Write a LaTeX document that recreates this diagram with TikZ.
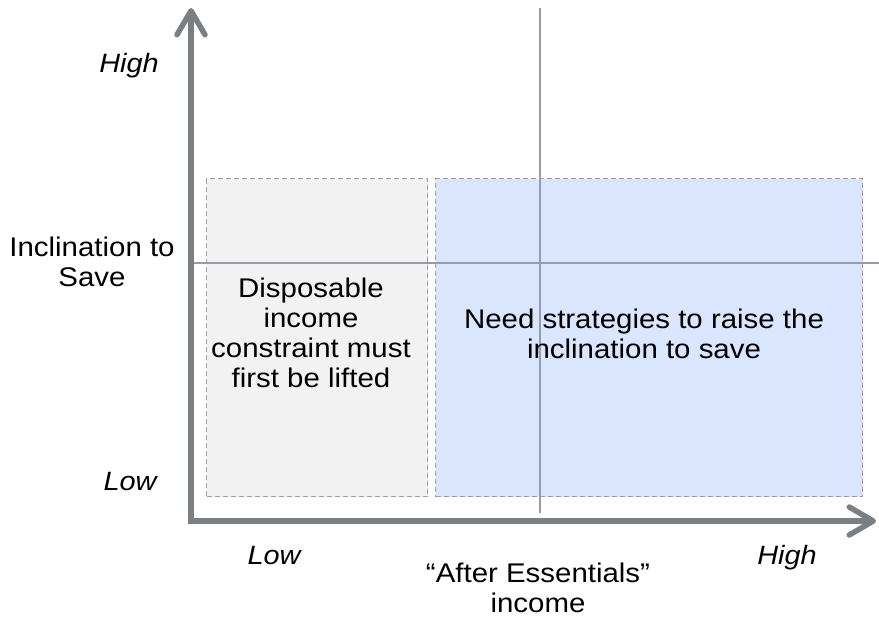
\documentclass[tikz,border=0pt]{standalone}
\usepackage{fontspec}
\setmainfont{Liberation Sans}[FakeStretch=1.09]
\usetikzlibrary{arrows.meta}
\definecolor{axisgray}{RGB}{122,127,132}
\definecolor{boxgray}{RGB}{242,242,242}
\definecolor{boxblue}{RGB}{218,230,253}
\definecolor{dashgray}{RGB}{158,158,158}
\definecolor{guidegray}{RGB}{150,157,168}
\begin{document}
\begin{tikzpicture}[x=1pt, y=-1pt,
      every node/.append style={inner sep=0pt, font=\fontsize{27}{30}\selectfont},
      axis/.style={draw=axisgray, line width=5.5pt,
        -{Straight Barb[length=24pt,width=28pt,round]}},
      region/.style={draw=dashgray, line width=1.3pt, dash pattern=on 5pt off 3pt,
        anchor=north west},
      guide/.style={draw=guidegray, line width=1.1pt},
      scalelabel/.style={anchor=base, font=\fontsize{26.5}{30}\selectfont\itshape}]
    \useasboundingbox (0,0) rectangle (879,621);
    % the two regions
    \node (lowbox) [region, fill=boxgray, minimum width=221pt, minimum height=318pt] at (206,178) {};
    \node (highbox) [region, fill=boxblue, minimum width=427pt, minimum height=318pt] at (435,178) {};
    % quadrant guides
    \coordinate (vtop) at (540,8);
    \coordinate (vbot) at (540,513);
    \coordinate (hleft) at (193,263);
    \coordinate (hright) at (879,263);
    \draw [guide] (vtop) -- (vbot);
    \draw [guide] (hleft) -- (hright);
    % axes
    \coordinate (yfoot) at (191,524);
    \coordinate (ytip) at (191,8);
    \coordinate (xfoot) at (188,521);
    \coordinate (xtip) at (876,521);
    \draw [axis] (yfoot) -- (ytip);
    \draw [axis] (xfoot) -- (xtip);
    % texts
    \node (yhigh) [scalelabel] at (129,72) {High};
    \node (ylow) [scalelabel] at (130,490) {Low};
    \node (ytitle) [align=center] at (92,262) {Inclination to\\Save};
    \node (lowtext) [align=center] at (311,333) {Disposable\\income\\constraint must\\first be lifted};
    \node (hightext) [align=center] at (644,333.5) {Need strategies to raise the\\inclination to save};
    \node (xlow) [scalelabel] at (274,564) {Low};
    \node (xhigh) [scalelabel] at (787,564) {High};
    \node (xtitle) [align=center] at (538,587.5) {``After Essentials''\\income};
\end{tikzpicture}
\end{document}
